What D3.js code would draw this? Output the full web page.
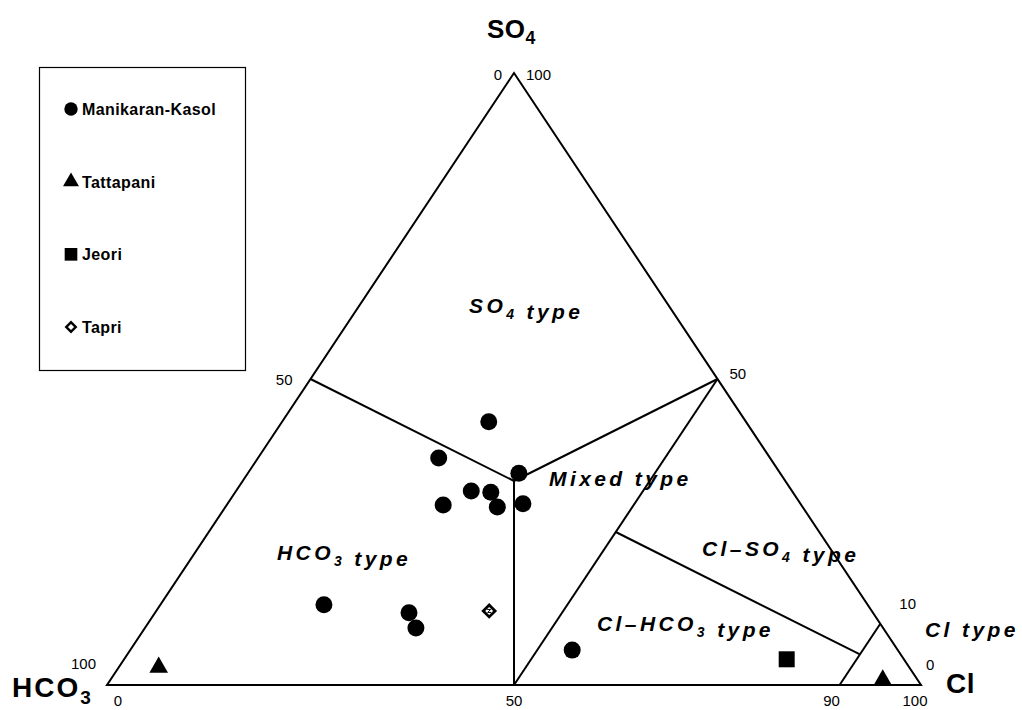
<!DOCTYPE html>
<html>
<head>
<meta charset="utf-8">
<script src="https://cdn.jsdelivr.net/npm/d3@7"></script>
<style>
  html, body { margin: 0; padding: 0; background: #fff; }
  svg { display: block; }
  text { font-family: "Liberation Sans", Arial, sans-serif; fill: #000; }
</style>
</head>
<body>
<svg id="chart" width="1022" height="710"></svg>
<script>
// ---- Data: ternary compositions [HCO3 %, Cl %, SO4 %] ----
const seriesNames = ["Manikaran-Kasol", "Tattapani", "Jeori", "Tapri"];
const manikaranKasol = [
  [31.6, 25.4, 43.0],
  [40.7, 22.2, 37.1],
  [32.1, 33.3, 34.6],
  [39.4, 28.9, 31.7],
  [37.1, 31.4, 31.5],
  [44.0, 26.6, 29.4],
  [37.5, 33.4, 29.1],
  [34.1, 36.3, 29.6],
  [66.8, 20.1, 13.1],
  [57.0, 31.2, 11.8],
  [57.4, 33.3, 9.3],
  [40.0, 54.3, 5.7]
];
const tattapani = [
  [92.2, 4.9, 2.9],
  [4.3, 94.9, 0.8]
];
const jeori = [
  [14.4, 81.4, 4.2]
];
const tapri = [
  [47.0, 40.9, 12.1]
];
// classification boundaries (ternary points)
const boundaryLines = [
  [[50, 0, 50], [100/3, 100/3, 100/3]],
  [[0, 50, 50], [100/3, 100/3, 100/3]],
  [[100/3, 100/3, 100/3], [50, 50, 0]],
  [[0, 50, 50], [50, 50, 0]],
  [[25, 50, 25], [5, 90, 5]],
  [[0, 90, 10], [10, 90, 0]]
];
const hco3Ticks = ["100", "50", "0"];
const so4Ticks = ["100", "50", "10", "0"];
const clTicks = ["0", "50", "90", "100"];

// ---- Scales ----
const svg = d3.select("#chart");
const xScale = d3.scaleLinear().domain([0, 100]).range([107, 921]);
const yScale = d3.scaleLinear().domain([0, 100]).range([685, 73]);
const px = p => [xScale(p[1] + p[2] / 2), yScale(p[2])];

// ---- Triangle frame ----
const frame = [[100, 0, 0], [0, 100, 0], [0, 0, 100]].map(px);
svg.append("path")
  .attr("d", d3.line()(frame) + "Z")
  .attr("fill", "none").attr("stroke", "#000").attr("stroke-width", 2)
  .attr("stroke-linejoin", "miter");

svg.append("g").selectAll("path").data(boundaryLines).join("path")
  .attr("d", d => d3.line()(d.map(px)))
  .attr("fill", "none").attr("stroke", "#000").attr("stroke-width", 2);

// ---- Tick labels ----
const tickG = svg.append("g").attr("font-size", 15);
const hco3Pos = [[100, 0, 0], [50, 0, 50], [0, 0, 100]];
const hco3Off = [[-11, -16], [-18, 6], [-12, 7]];
hco3Ticks.forEach((t, i) => {
  const p = px(hco3Pos[i]);
  tickG.append("text").attr("x", p[0] + hco3Off[i][0]).attr("y", p[1] + hco3Off[i][1])
    .attr("text-anchor", "end").text(t);
});
const so4Pos = [[0, 0, 100], [0, 50, 50], [0, 90, 10], [0, 100, 0]];
const so4Off = [[12, 7], [12, 0], [19, -15], [5, -15]];
so4Ticks.forEach((t, i) => {
  const p = px(so4Pos[i]);
  tickG.append("text").attr("x", p[0] + so4Off[i][0]).attr("y", p[1] + so4Off[i][1])
    .attr("text-anchor", "start").text(t);
});
const clPos = [[100, 0, 0], [50, 50, 0], [10, 90, 0], [0, 100, 0]];
const clOff = [[11, 21], [0, 21], [-8, 21], [-6, 21]];
clTicks.forEach((t, i) => {
  const p = px(clPos[i]);
  tickG.append("text").attr("x", p[0] + clOff[i][0]).attr("y", p[1] + clOff[i][1])
    .attr("text-anchor", "middle").text(t);
});

// ---- Axis (apex) labels ----
function chem(x, y, base, sub, size, ls) {
  const t = svg.append("text").attr("x", x).attr("y", y).attr("font-size", size)
    .attr("font-weight", "bold").attr("letter-spacing", ls);
  t.append("tspan").text(base);
  if (sub) t.append("tspan").attr("font-size", size * 0.68).attr("dy", size * 0.24).text(sub);
  return t;
}
chem(12, 697, "HCO", "3", 28, 2);
chem(946, 693, "Cl", null, 28, 0.5);
chem(487, 38, "SO", "4", 26, 0.5);

// ---- Region type labels ----
function typeLabel(x, y, parts) {
  const t = svg.append("text").attr("x", x).attr("y", y)
    .attr("font-size", 21).attr("font-style", "italic").attr("font-weight", "bold")
    .attr("letter-spacing", 3.4);
  parts.forEach(pt => {
    if (pt.sub) {
      t.append("tspan").attr("font-size", 14).attr("dy", 6).text(pt.t);
      t.append("tspan").attr("dy", -6).text("");
    } else {
      t.append("tspan").text(pt.t);
    }
  });
}
typeLabel(469, 313, [{t: "SO"}, {t: "4", sub: true}, {t: " type"}]);
typeLabel(277, 560, [{t: "HCO"}, {t: "3", sub: true}, {t: " type"}]);
typeLabel(549, 486, [{t: "Mixed type"}]);
typeLabel(702, 556, [{t: "Cl–SO"}, {t: "4", sub: true}, {t: " type"}]);
typeLabel(597, 631, [{t: "Cl–HCO"}, {t: "3", sub: true}, {t: " type"}]);
typeLabel(925, 637, [{t: "Cl type"}]);

// ---- Points ----
const ptsG = svg.append("g");
ptsG.selectAll("circle").data(manikaranKasol).join("circle")
  .attr("cx", d => px(d)[0]).attr("cy", d => px(d)[1]).attr("r", 8.5).attr("fill", "#000");
ptsG.selectAll("path.tri").data(tattapani).join("path").attr("class", "tri")
  .attr("transform", d => `translate(${px(d)[0]},${px(d)[1]})`)
  .attr("d", d3.symbol(d3.symbolTriangle, 150)()).attr("fill", "#000");
ptsG.selectAll("path.sq").data(jeori).join("path").attr("class", "sq")
  .attr("transform", d => `translate(${px(d)[0]},${px(d)[1]})`)
  .attr("d", d3.symbol(d3.symbolSquare, 256)()).attr("fill", "#000");
const tapriG = ptsG.selectAll("g.tapri").data(tapri).join("g").attr("class", "tapri")
  .attr("transform", d => `translate(${px(d)[0]},${px(d)[1]})`);
tapriG.append("path").attr("d", d3.symbol(d3.symbolSquare, 70)())
  .attr("fill", "#fff").attr("stroke", "#000").attr("stroke-width", 2.8).attr("transform", "rotate(45)");
tapriG.append("path").attr("d", "M-2,-1.5 L1.5,-1.5 L-1.5,1.5 L2,1.5")
  .attr("fill", "none").attr("stroke", "#000").attr("stroke-width", 1);

// ---- Legend ----
const leg = svg.append("g");
leg.append("rect").attr("x", 39.5).attr("y", 67.5).attr("width", 206).attr("height", 303)
  .attr("fill", "#fff").attr("stroke", "#000").attr("stroke-width", 1.2);
const legY = d3.scalePoint().domain(seriesNames).range([109, 327]);
const legSym = [d3.symbolCircle, d3.symbolTriangle, d3.symbolSquare, d3.symbolSquare];
const legSize = [140, 110, 160, 45];
seriesNames.forEach((name, i) => {
  const y = legY(name);
  const s = leg.append("path").attr("transform", `translate(71,${y})` + (i === 3 ? " rotate(45)" : ""))
    .attr("d", d3.symbol(legSym[i], legSize[i])());
  if (i === 3) s.attr("fill", "#fff").attr("stroke", "#000").attr("stroke-width", 2.4);
  else s.attr("fill", "#000");
  leg.append("text").attr("x", 82).attr("y", y + 6).attr("font-size", 16)
    .attr("font-weight", "bold").attr("letter-spacing", 0.4).text(name);
});
</script>
</body>
</html>
